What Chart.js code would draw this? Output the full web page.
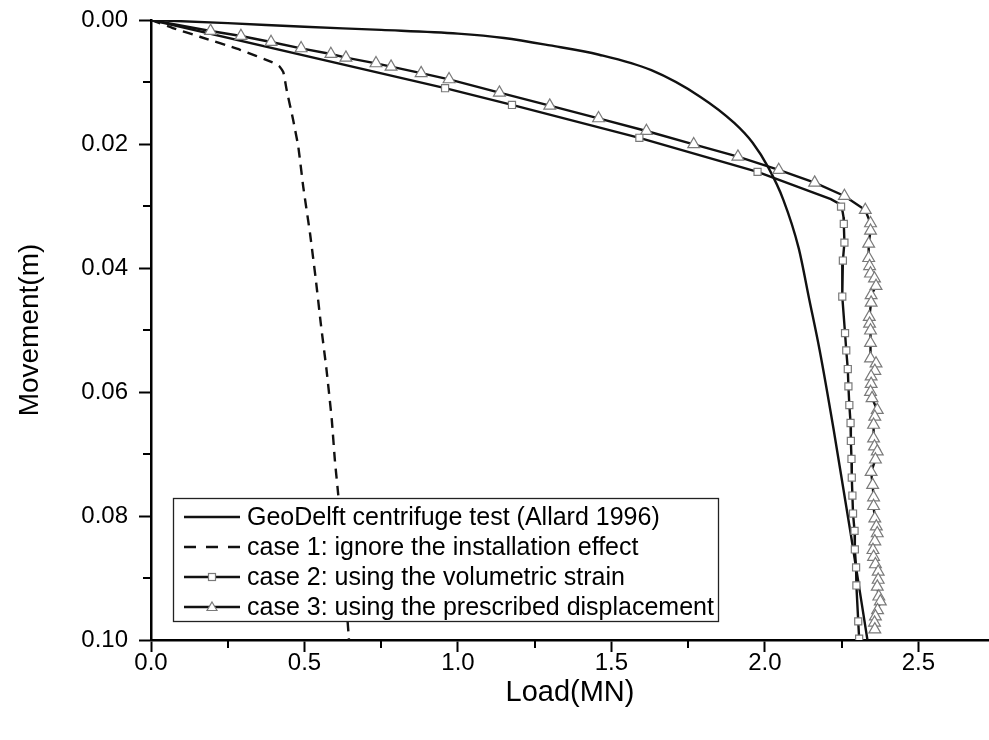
<!DOCTYPE html>
<html>
<head>
<meta charset="utf-8">
<title>Load-movement curves</title>
<script src="https://cdn.jsdelivr.net/npm/chart.js@4.4.0/dist/chart.umd.min.js"></script>
<style>
  html, body { margin: 0; padding: 0; background: #fff; }
  canvas { display: block; }
</style>
</head>
<body>
<canvas id="chart" width="989" height="740"></canvas>
<script>
// Series names (legend)
const seriesNames = [
  'GeoDelft centrifuge test (Allard 1996)',
  'case 1: ignore the installation effect',
  'case 2: using the volumetric strain',
  'case 3: using the prescribed displacement'
];

// GeoDelft centrifuge test: load (MN) vs movement (m)
const geoLoad = [0, 0.25, 0.5, 0.75, 1.0, 1.15, 1.3, 1.46, 1.63, 1.79, 1.9, 1.96, 2.01, 2.06, 2.11, 2.145, 2.178, 2.224, 2.279, 2.334];
const geoMove = [0, 0.0005, 0.0011, 0.0016, 0.0022, 0.0029, 0.0041, 0.0056, 0.0081, 0.0124, 0.0166, 0.0198, 0.0237, 0.029, 0.0368, 0.0452, 0.0532, 0.0661, 0.0827, 0.1];

// Case 1: installation effect ignored
const case1Load = [0, 0.071, 0.159, 0.29, 0.394, 0.417, 0.431, 0.442, 0.463, 0.48, 0.496, 0.518, 0.537, 0.553, 0.572, 0.589, 0.599, 0.61, 0.627, 0.645];
const case1Move = [0, 0.0013, 0.0027, 0.0048, 0.0068, 0.0074, 0.0084, 0.0113, 0.0161, 0.0205, 0.0269, 0.0344, 0.0419, 0.0489, 0.0565, 0.0645, 0.071, 0.0766, 0.088, 0.1];

// Case 2: volumetric strain (marked points)
const case2Load = [0.958, 1.176, 1.591, 1.976, 2.248, 2.257, 2.259, 2.254, 2.252, 2.261, 2.265, 2.27, 2.272, 2.275, 2.279, 2.28, 2.282, 2.283, 2.285, 2.287, 2.292, 2.293, 2.297, 2.298, 2.304, 2.307];
const case2Move = [0.011, 0.0137, 0.019, 0.0245, 0.0301, 0.0329, 0.0359, 0.0388, 0.0446, 0.0505, 0.0533, 0.0563, 0.0591, 0.0621, 0.065, 0.0679, 0.0708, 0.0738, 0.0767, 0.0796, 0.0824, 0.0854, 0.0883, 0.0912, 0.097, 0.0998];
// Case 2: unmarked points along the curve (start and knee)
const case2BendLoad = [0, 2.16, 2.215, 2.24, 2.253, 2.256];
const case2BendMove = [0, 0.0279, 0.0289, 0.0296, 0.0309, 0.0318];

// Case 3: prescribed displacement (marked points)
const case3Load = [0.194, 0.293, 0.391, 0.489, 0.586, 0.635, 0.733, 0.782, 0.88, 0.971, 1.135, 1.299, 1.458, 1.614, 1.768, 1.912, 2.045, 2.162, 2.259, 2.327,
  2.344, 2.344, 2.338, 2.338, 2.341, 2.344, 2.357, 2.362, 2.346, 2.346, 2.34, 2.341, 2.344, 2.344, 2.344, 2.362, 2.358, 2.346, 2.346, 2.344, 2.349,
  2.366, 2.358, 2.354, 2.354, 2.357, 2.366, 2.36, 2.346, 2.351, 2.354, 2.354, 2.358, 2.363, 2.366, 2.358, 2.352, 2.354, 2.36, 2.369, 2.369, 2.366,
  2.371, 2.376, 2.367, 2.36, 2.357, 2.358];
const case3Move = [0.00177, 0.00258, 0.00355, 0.00457, 0.00548, 0.00608, 0.00699, 0.00753, 0.00857, 0.00957, 0.01172, 0.01382, 0.01586, 0.0179, 0.02005, 0.02204, 0.02419, 0.02624, 0.02839, 0.03065,
  0.0328, 0.034, 0.0361, 0.0384, 0.0397, 0.0409, 0.0417, 0.0429, 0.0444, 0.0456, 0.0479, 0.049, 0.0501, 0.0521, 0.0546, 0.0554, 0.0566, 0.0575, 0.0587, 0.06, 0.061,
  0.0629, 0.064, 0.0653, 0.0675, 0.0688, 0.0696, 0.0709, 0.0729, 0.075, 0.077, 0.0784, 0.0804, 0.0817, 0.0828, 0.0841, 0.0855, 0.0866, 0.0878, 0.089, 0.0903, 0.0914,
  0.093, 0.0938, 0.0952, 0.0962, 0.0972, 0.0983];
const case3BendLoad = [0];
const case3BendMove = [0];

// Axis ticks
const xMajorStep = 0.5;
const yMajorStep = 0.02;
const xMinorTicks = [0.25, 0.75, 1.25, 1.75, 2.25];
const yMinorTicks = [0.01, 0.03, 0.05, 0.07, 0.09];

const FONT = '"Liberation Sans", Arial, Helvetica, sans-serif';

const toPoints = (xs, ys) => xs.map((v, i) => ({ x: v, y: ys[i] }));
const pathOf = (xs, ys, bx, by) => toPoints(xs, ys).concat(toPoints(bx, by)).sort((a, b) => a.y - b.y);

const LINE = '#111';
const MARK = '#7a7a7a';

const lineBase = {
  showLine: true,
  borderColor: LINE,
  borderWidth: 2.4,
  pointRadius: 0,
  pointHoverRadius: 0,
  fill: false,
  order: 2
};

const datasets = [
  Object.assign({}, lineBase, { label: seriesNames[0], data: toPoints(geoLoad, geoMove), cubicInterpolationMode: 'monotone' }),
  Object.assign({}, lineBase, { label: seriesNames[1], data: toPoints(case1Load, case1Move), tension: 0.15, borderDash: [10, 7] }),
  Object.assign({}, lineBase, { label: seriesNames[2], data: pathOf(case2Load, case2Move, case2BendLoad, case2BendMove), tension: 0 }),
  Object.assign({}, lineBase, { label: seriesNames[3], data: pathOf(case3Load, case3Move, case3BendLoad, case3BendMove), tension: 0 }),
  {
    label: seriesNames[2] + ' markers', data: toPoints(case2Load, case2Move), showLine: false,
    pointStyle: 'rect', pointRadius: 5, pointBorderWidth: 1.2,
    pointBorderColor: MARK, pointBackgroundColor: '#fff', order: 1
  },
  {
    label: seriesNames[3] + ' markers', data: toPoints(case3Load, case3Move), showLine: false,
    pointStyle: 'triangle', pointRadius: 6.8, pointBorderWidth: 1.2,
    pointBorderColor: MARK, pointBackgroundColor: '#fff', order: 1
  }
];

// Scales keep the plot frame fixed: no extra room reserved for edge labels
const noEdgePadding = scale => {
  scale.paddingLeft = 0; scale.paddingRight = 0;
  scale.paddingTop = 0; scale.paddingBottom = 0;
};

// Minor tick marks on both axes
const minorTicks = {
  id: 'minorTicks',
  afterDraw(chart) {
    const { ctx, scales: { x, y } } = chart;
    ctx.save();
    ctx.strokeStyle = '#000';
    ctx.lineWidth = 2;
    xMinorTicks.forEach(v => {
      const px = Math.round(x.getPixelForValue(v));
      ctx.beginPath(); ctx.moveTo(px, x.top); ctx.lineTo(px, x.top + 8); ctx.stroke();
    });
    yMinorTicks.forEach(v => {
      const py = Math.round(y.getPixelForValue(v));
      ctx.beginPath(); ctx.moveTo(y.right, py); ctx.lineTo(y.right - 8, py); ctx.stroke();
    });
    ctx.restore();
  }
};

// Boxed legend in the lower-left of the plot
const boxedLegend = {
  id: 'boxedLegend',
  afterDraw(chart) {
    const { ctx, chartArea: a } = chart;
    const left = a.left + 22, top = a.bottom - 142, w = 545, h = 123;
    ctx.save();
    ctx.fillStyle = '#fff';
    ctx.fillRect(left, top, w, h);
    ctx.strokeStyle = '#222';
    ctx.lineWidth = 1.3;
    ctx.strokeRect(left + 0.5, top + 0.5, w, h);
    ctx.font = '25px ' + FONT;
    ctx.textBaseline = 'middle';
    ctx.textAlign = 'left';
    for (let i = 0; i < 4; i++) {
      const ds = chart.data.datasets[i];
      const cy = top + 19 + i * 30;
      const x0 = left + 11, x1 = left + 67;
      ctx.strokeStyle = LINE;
      ctx.lineWidth = 2.4;
      ctx.setLineDash(ds.borderDash ? [12, 10] : []);
      ctx.beginPath(); ctx.moveTo(x0, cy); ctx.lineTo(x1, cy); ctx.stroke();
      ctx.setLineDash([]);
      const cx = (x0 + x1) / 2;
      if (i === 2) {
        ctx.fillStyle = '#fff'; ctx.strokeStyle = MARK; ctx.lineWidth = 1.2;
        ctx.fillRect(cx - 3.5, cy - 3.5, 7, 7); ctx.strokeRect(cx - 3.5, cy - 3.5, 7, 7);
      } else if (i === 3) {
        ctx.fillStyle = '#fff'; ctx.strokeStyle = MARK; ctx.lineWidth = 1.2;
        ctx.beginPath(); ctx.moveTo(cx, cy - 5); ctx.lineTo(cx + 5, cy + 3.5); ctx.lineTo(cx - 5, cy + 3.5); ctx.closePath();
        ctx.fill(); ctx.stroke();
      }
      ctx.fillStyle = '#000';
      ctx.fillText(ds.label, left + 74, cy + 1);
    }
    ctx.restore();
  }
};

new Chart(document.getElementById('chart'), {
  type: 'scatter',
  data: { datasets },
  plugins: [minorTicks, boxedLegend],
  options: {
    responsive: false,
    devicePixelRatio: 1,
    animation: false,
    events: [],
    layout: { autoPadding: false, padding: { top: 20, right: 0, bottom: 0, left: 0 } },
    plugins: { legend: { display: false }, tooltip: { enabled: false } },
    scales: {
      x: {
        type: 'linear',
        min: 0,
        max: 2.73,
        afterFit(scale) { scale.height = 100; noEdgePadding(scale); },
        border: { display: true, color: '#000', width: 2.5 },
        grid: { drawOnChartArea: false, drawTicks: true, tickLength: 12, tickWidth: 2, color: '#000' },
        ticks: {
          stepSize: xMajorStep, includeBounds: false, padding: -3, color: '#000',
          font: { family: FONT, size: 24 },
          callback: v => Number(v).toFixed(1)
        },
        title: { display: true, text: 'Load(MN)', color: '#000', font: { family: FONT, size: 29 }, padding: { top: 0, bottom: 30 } }
      },
      y: {
        type: 'linear',
        reverse: true,
        min: 0,
        max: 0.1,
        afterFit(scale) { scale.width = 151; noEdgePadding(scale); },
        border: { display: true, color: '#000', width: 2.5 },
        grid: { drawOnChartArea: false, drawTicks: true, tickLength: 12, tickWidth: 2, color: '#000' },
        ticks: {
          stepSize: yMajorStep, padding: 11, color: '#000',
          font: { family: FONT, size: 24 },
          callback: v => Number(v).toFixed(2)
        },
        title: { display: true, text: 'Movement(m)', color: '#000', font: { family: FONT, size: 28 }, padding: { top: 13, bottom: 0 } }
      }
    }
  }
});
</script>
</body>
</html>
